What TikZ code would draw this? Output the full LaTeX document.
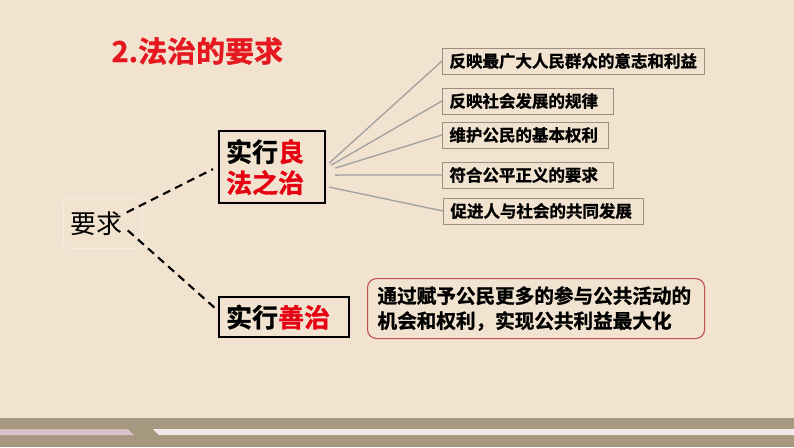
\documentclass[tikz,border=0pt]{standalone}
\usepackage{fontspec}
\setmainfont{Noto Sans CJK SC}[BoldFont={Noto Sans CJK SC Bold}, BoldFeatures={FakeBold=1.2}]
\usetikzlibrary{calc}
\definecolor{paper}{HTML}{F1E3CF}
\definecolor{titlered}{HTML}{E5171F}
\definecolor{keyred}{HTML}{E60012}
\definecolor{boxline}{HTML}{9E8E7E}
\definecolor{spoke}{HTML}{A0A0A0}
\definecolor{noteline}{HTML}{C0504D}
\definecolor{band}{HTML}{A79880}
\definecolor{lilac}{HTML}{D7C2CA}
\definecolor{stripe}{HTML}{F3E8EA}

\begin{document}
\begin{tikzpicture}[x=1pt, y=-1pt,
	item/.style = {draw=boxline, line width=0.9pt, anchor=west, inner xsep=7pt, inner ysep=0pt,
		minimum height=26pt, align=left, font=\fontsize{16.5}{20}\selectfont\bfseries},
	keybox/.style = {draw=black, line width=2.2pt, anchor=north west, inner xsep=7pt, inner ysep=0pt,
		align=left, font=\fontsize{26}{31}\selectfont\bfseries},
	dashlink/.style = {draw=black, line width=2.1pt, dash pattern=on 8pt off 5.5pt},
	spokelink/.style = {draw=spoke, line width=1.3pt}]
	\fill[paper] (0,0) rectangle (794,447); % background
	\fill[band] (0,418) rectangle (794,447); % bottom band
	\fill[lilac] (0,429) -- (128,429) -- (134,435) -- (0,435) -- cycle;
	\fill[stripe] (153,429) -- (794,429) -- (794,435) -- (159,435) -- cycle;
	
	\node[anchor=west, text=titlered, font=\fontsize{29}{34}\selectfont\bfseries] (title) at (108,51) {2.法治的要求};
	
	\node[draw=white!35!paper, rounded corners=5pt, line width=0.8pt, anchor=north west, inner xsep=7pt,
		text width=65pt, minimum height=50pt, align=left, font=\fontsize{26}{31}\selectfont] (yq) at (63,198) {要求};
	
	\node[keybox, text width=92pt, minimum height=72pt] (lf) at (218,130) {实行\textcolor{keyred}{良}\\\textcolor{keyred}{法之治}};
	\node[keybox, text width=116pt, minimum height=40pt] (sz) at (218,296) {实行\textcolor{keyred}{善治}};
	
	\node[item, text width=248pt] (r1) at (442,61) {反映最广大人民群众的意志和利益};
	\node[item, text width=157pt] (r2) at (442,101) {反映社会发展的规律};
	\node[item, text width=152pt] (r3) at (442,135) {维护公民的基本权利};
	\node[item, text width=157pt] (r4) at (442,175) {符合公平正义的要求};
	\node[item, text width=186pt] (r5) at (443,211) {促进人与社会的共同发展};
	
	\node[draw=noteline, line width=1.1pt, rounded corners=9pt, anchor=north west, inner xsep=10pt, inner ysep=0pt,
		text width=317pt, minimum height=60pt, align=left, font=\fontsize{19.6}{25}\selectfont\bfseries] (note) at (367,278)
		{通过赋予公民更多的参与公共活动的\\机会和权利，实现公共利益最大化};
	
	\draw[dashlink] ($(yq.east)+(-16,-11)$) -- ($(lf.west)+(-5,2)$); % upper branch
	\draw[dashlink] ($(yq.east)+(-15,7)$) -- ($(sz.west)+(-3,-9)$); % lower branch
	
	\draw[spokelink] ($(lf.east)+(3,-4)$) -- (r1.west);
	\draw[spokelink] ($(lf.east)+(5,-2)$) -- (r2.west);
	\draw[spokelink] ($(lf.east)+(9,1)$) -- (r3.west);
	\draw[spokelink] ($(lf.east)+(9,8)$) -- (r4.west);
	\draw[spokelink] ($(lf.east)+(3,20)$) -- (r5.west);
	
	\useasboundingbox (0,0) rectangle (794,447);
\end{tikzpicture}
\end{document}
